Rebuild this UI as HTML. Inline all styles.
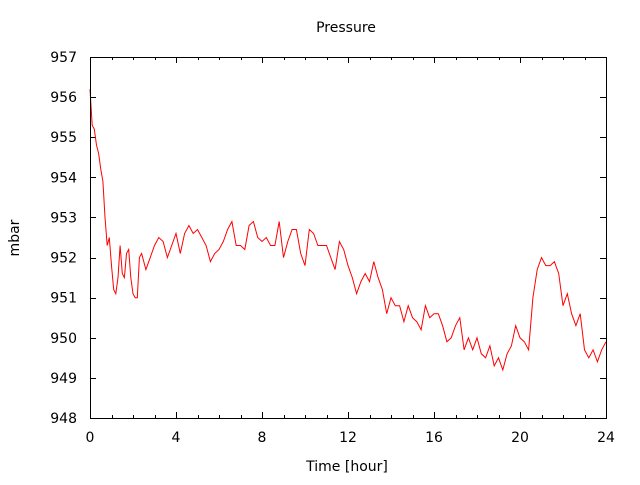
<!DOCTYPE html>
<html><head><meta charset="utf-8"><style>
body{margin:0;background:#fff}
svg text{font-family:"DejaVu Sans","Liberation Sans",sans-serif;font-size:14px;fill:#000}
</style></head><body>
<svg id="chart" width="640" height="480" viewBox="0 0 640 480" xmlns="http://www.w3.org/2000/svg">
<rect width="640" height="480" fill="#fff"/>
<text x="346" y="32" text-anchor="middle">Pressure</text>
<text x="347" y="471" text-anchor="middle">Time [hour]</text>
<text x="19" y="238" text-anchor="middle" transform="rotate(-90 19 238)">mbar</text>
<g id="axes"></g>
<path id="series" fill="none" stroke="#ff0000" stroke-width="1"/>
<rect x="90.5" y="57.5" width="516" height="361" fill="none" stroke="#000" stroke-width="1"/>
</svg>
<script>
const xTicks=[0,4,8,12,16,20,24];
const yTicks=[948,949,950,951,952,953,954,955,956,957];
const times=[0,0.1,0.2,0.3,0.4,0.5,0.6,0.7,0.8,0.9,1.0,1.1,1.2,1.3,1.4,1.5,1.6,1.7,1.8,1.9,2.0,2.1,2.2,2.3,2.4,2.6,2.8,3.0,3.2,3.4,3.6,3.8,4.0,4.2,4.4,4.6,4.8,5.0,5.2,5.4,5.6,5.8,6.0,6.2,6.4,6.6,6.8,7.0,7.2,7.4,7.6,7.8,8.0,8.2,8.4,8.6,8.8,9.0,9.2,9.4,9.6,9.8,10.0,10.2,10.4,10.6,10.8,11.0,11.2,11.4,11.6,11.8,12.0,12.2,12.4,12.6,12.8,13.0,13.2,13.4,13.6,13.8,14.0,14.2,14.4,14.6,14.8,15.0,15.2,15.4,15.6,15.8,16.0,16.2,16.4,16.6,16.8,17.0,17.2,17.4,17.6,17.8,18.0,18.2,18.4,18.6,18.8,19.0,19.2,19.4,19.6,19.8,20.0,20.2,20.4,20.6,20.8,21.0,21.2,21.4,21.6,21.8,22.0,22.2,22.4,22.6,22.8,23.0,23.2,23.4,23.6,23.8,24.0];
const pressure=[956.2,955.3,955.2,954.8,954.6,954.2,953.9,953.0,952.3,952.5,951.8,951.2,951.1,951.5,952.3,951.6,951.5,952.1,952.2,951.5,951.1,951.0,951.0,952.0,952.1,951.7,952.0,952.3,952.5,952.4,952.0,952.3,952.6,952.1,952.6,952.8,952.6,952.7,952.5,952.3,951.9,952.1,952.2,952.4,952.7,952.9,952.3,952.3,952.2,952.8,952.9,952.5,952.4,952.5,952.3,952.3,952.9,952.0,952.4,952.7,952.7,952.1,951.8,952.7,952.6,952.3,952.3,952.3,952.0,951.7,952.4,952.2,951.8,951.5,951.1,951.4,951.6,951.4,951.9,951.5,951.2,950.6,951.0,950.8,950.8,950.4,950.8,950.5,950.4,950.2,950.8,950.5,950.6,950.6,950.3,949.9,950.0,950.3,950.5,949.7,950.0,949.7,950.0,949.6,949.5,949.8,949.3,949.5,949.2,949.6,949.8,950.3,950.0,949.9,949.7,951.0,951.7,952.0,951.8,951.8,951.9,951.6,950.8,951.1,950.6,950.3,950.6,949.7,949.5,949.7,949.4,949.7,949.9];
const X0=90,X1=606,Y0=418,Y1=57;
const xs=v=>X0+(v-0)/(24-0)*(X1-X0);
const ys=v=>Y0-(v-948)/(957-948)*(Y0-Y1);
const NS='http://www.w3.org/2000/svg';
const axes=document.getElementById('axes');
function line(x1,y1,x2,y2,name){const l=document.createElementNS(NS,'line');
l.setAttribute('x1',x1);l.setAttribute('y1',y1);l.setAttribute('x2',x2);l.setAttribute('y2',y2);
l.setAttribute('stroke','#000');l.setAttribute('stroke-width','1');


axes.appendChild(l);}
function text(x,y,s,anchor,name){const t=document.createElementNS(NS,'text');
t.setAttribute('x',x);t.setAttribute('y',y);t.setAttribute('text-anchor',anchor);t.textContent=s;


axes.appendChild(t);}
for(let h=1;h<24;h++){if(h%4===0)continue;const x=Math.round(xs(h))+0.5;line(x,Y0,x,Y0-3,'x-minor-tick');line(x,Y1,x,Y1+3,'x-minor-tick');}
xTicks.forEach(v=>{const x=Math.round(xs(v))+0.5;line(x,Y0,x,Y0-6,'x-tick');line(x,Y1,x,Y1+6,'x-tick');text(xs(v),442,String(v),'middle','x-tick-label');});
yTicks.forEach(v=>{const y=Math.round(ys(v))+0.5;line(X0,y,X0+6,y,'y-tick');line(X1,y,X1-6,y,'y-tick');text(77,ys(v)+5,String(v),'end','y-tick-label');});
let d='';times.forEach((t,i)=>{d+=(i?'L':'M')+xs(t).toFixed(1)+','+ys(pressure[i]).toFixed(1);});
document.getElementById('series').setAttribute('d',d);
</script>
</body></html>
